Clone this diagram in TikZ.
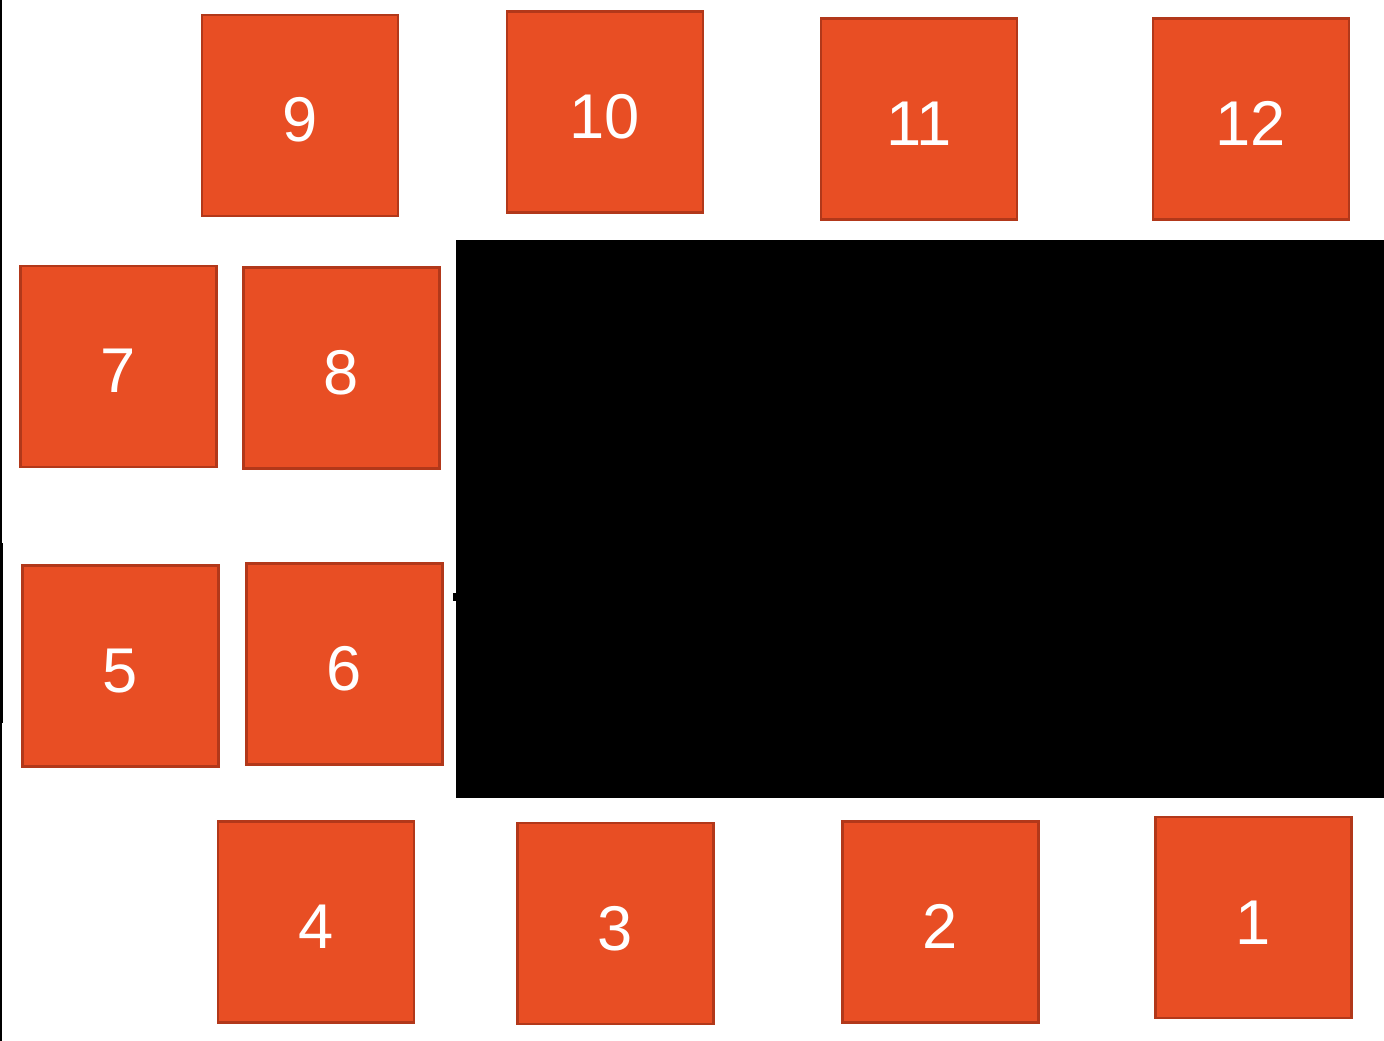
\documentclass[tikz,border=0pt]{standalone}
\usepackage{fontspec}
\setmainfont{Liberation Sans}
\usepackage{xcolor}
\usepackage{tikz}
\usetikzlibrary{positioning}

\definecolor{seatfill}{RGB}{232,78,36}
\definecolor{seatedge}{RGB}{178,56,26}

\begin{document}
\begin{tikzpicture}[x=0.02cm, y=-0.02cm, seat/.style={draw=seatedge, line width=0.045cm, fill=seatfill, minimum width=3.92cm, minimum height=4.02cm, inner sep=0pt, text=white, text height=1.06cm, text depth=0pt, font=\fontsize{36}{38}\selectfont}]
      \useasboundingbox (0,0) rectangle (1384,1041);
      % table and left wall
      \fill[black] (456,240) rectangle (1384,798);
      \fill[black] (453,593) rectangle (457,601);
      \draw[line width=0.03cm] (1.2,0) -- (1.2,1041);
      \fill[black] (0,543) rectangle (2.7,723);
      % top row
      \node[seat] (s9) at (300,115.5) {9};
      \node[seat] (s10) at (605,112) {10};
      \node[seat] (s11) at (919,119) {11};
      \node[seat] (s12) at (1251,119) {12};
      % left side
      \node[seat] (s7) at (118.5,366.5) {7};
      \node[seat] (s8) at (341.5,368) {8};
      \node[seat] (s5) at (120.5,666) {5};
      \node[seat] (s6) at (344.5,664) {6};
      % bottom row
      \node[seat] (s4) at (316,922) {4};
      \node[seat] (s3) at (615.5,923.5) {3};
      \node[seat] (s2) at (940.5,922) {2};
      \node[seat] (s1) at (1253.5,917.5) {1};
    \end{tikzpicture}
\end{document}
